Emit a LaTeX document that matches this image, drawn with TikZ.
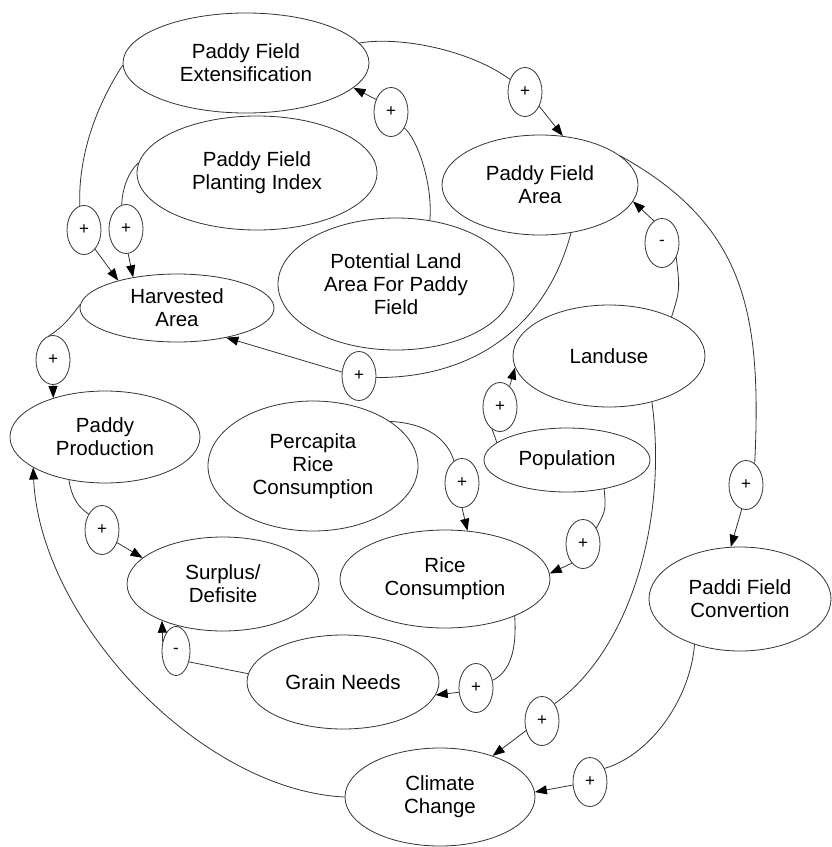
\documentclass[tikz,border=0pt]{standalone}
\usepackage{fontspec}
\setmainfont{Liberation Sans}
\usetikzlibrary{shapes.geometric,arrows.meta}
\begin{document}
\begin{tikzpicture}[x=1pt,y=-1pt,
 var/.style={ellipse,draw=black!80,line width=0.8pt,inner sep=0pt,align=center,font=\fontsize{20.5}{23}\selectfont},
 pol/.style={ellipse,draw=black!80,line width=0.8pt,inner sep=0pt,minimum width=34pt,minimum height=49pt,font=\fontsize{17}{18}\selectfont},
 link/.style={draw=black!80,line width=0.8pt},
 arr/.style={link,-{Triangle[length=12pt,width=9pt,color=black]}}]
\useasboundingbox (0,0) rectangle (831,847);
% variables
\node[var,minimum width=246pt,minimum height=100pt] (ext) at (246,63) {Paddy Field\\Extensification};
\node[var,minimum width=240pt,minimum height=114pt] (pi) at (257,173) {Paddy Field\\Planting Index};
\node[var,minimum width=196pt,minimum height=100pt] (pfa) at (540,185) {Paddy Field\\Area};
\node[var,minimum width=236pt,minimum height=132pt] (pot) at (396,284) {Potential Land\\Area For Paddy\\Field};
\node[var,minimum width=194pt,minimum height=68pt] (har) at (177,308) {Harvested\\Area};
\node[var,minimum width=192pt,minimum height=102pt] (land) at (609,356) {Landuse};
\node[var,minimum width=166pt,minimum height=64pt] (pop) at (567,460) {Population};
\node[var,minimum width=190pt,minimum height=92pt] (pp) at (105,437) {Paddy\\Production};
\node[var,minimum width=210pt,minimum height=130pt] (per) at (313,466) {Percapita\\Rice\\Consumption};
\node[var,minimum width=210pt,minimum height=98pt] (rc) at (445,579) {Rice\\Consumption};
\node[var,minimum width=192pt,minimum height=94pt] (sd) at (223,584) {Surplus/\\Defisite};
\node[var,minimum width=192pt,minimum height=94pt] (gn) at (343,682) {Grain Needs};
\node[var,minimum width=182pt,minimum height=104pt] (pfc) at (740,599) {Paddi Field\\Convertion};
\node[var,minimum width=190pt,minimum height=98pt] (cc) at (440,797) {Climate\\Change};
% polarity markers
\node[pol] (p1) at (525,92) {+};
\node[pol] (p2) at (391,112) {+};
\node[pol] (p3) at (84,230) {+};
\node[pol] (p4) at (126,229) {+};
\node[pol] (p5) at (53,360) {+};
\node[pol] (p6) at (359,376) {+};
\node[pol] (p7) at (662,243) {-};
\node[pol] (p8) at (500,407) {+};
\node[pol] (p9) at (462,483) {+};
\node[pol] (p10) at (583,544) {+};
\node[pol] (p11) at (746,485) {+};
\node[pol] (p12) at (102,530) {+};
\node[pol,minimum width=28pt] (p13) at (176,651) {-};
\node[pol] (p14) at (476,688) {+};
\node[pol] (p15) at (542,721) {+};
\node[pol] (p16) at (590,782) {+};
% connectors
\draw[link] (ext.10) .. controls (400,36) and (470,50) .. (p1.140);
\draw[arr] (p1.-45) -- (pfa.65);
\draw[link] (pot.62) .. controls (433,185) and (418,140) .. (p2.-50);
\draw[arr] (p2.140) -- (ext.-13);
\draw[link] (ext.181) .. controls (100,100) and (78,150) .. (p3.100);
\draw[arr] (p3.-60) -- (har.155);
\draw[link] (pi.175) .. controls (128,172) and (122,190) .. (p4.100);
\draw[arr] (p4.-85) -- (har.145);
\draw[link] (har.178) .. controls (70,318) and (62,328) .. (p5.100);
\draw[arr] (p5.-90) -- (pp.143);
\draw[link] (pfa.-57) .. controls (545,330) and (470,378) .. (p6.-5);
\draw[arr] (p6.167) -- (har.-31);
\draw[link] (land.32) .. controls (680,290) .. (p7.-45);
\draw[arr] (p7.110) -- (pfa.-10);
\draw[link] (pop.166) .. controls (495,437) .. (p8.-110);
\draw[arr] (p8.65) -- (land.187);
\draw[link] (per.30) .. controls (425,423) and (447,438) .. (p9.110);
\draw[arr] (p9.-90) -- (rc.65);
\draw[link] (pop.-38) .. controls (606,510) .. (p10.50);
\draw[arr] (p10.-120) -- (rc.3);
\draw[link] (pfa.20) .. controls (745,225) and (762,312) .. (p11.68);
\draw[arr] (p11.-100) -- (pfc.100);
\draw[link] (pp.-130) .. controls (72,500) and (80,508) .. (p12.130);
\draw[arr] (p12.-40) -- (sd.162);
\draw[link] (gn.175) -- (p13.-40);
\draw[arr] (p13.145) -- (sd.211);
\draw[link] (rc.-28) .. controls (517,650) and (510,672) .. (p14.25);
\draw[arr] (p14.194) -- (gn.-8);
\draw[link] (land.-47) .. controls (668,520) and (630,650) .. (p15.54);
\draw[arr] (p15.211) -- (cc.38);
\draw[link] (pfc.-135) .. controls (690,700) and (650,755) .. (p16.43);
\draw[arr] (p16.190) -- (cc.3);
\draw[arr] (cc.180) .. controls (200,790) and (40,620) .. (pp.203);
\end{tikzpicture}
\end{document}
